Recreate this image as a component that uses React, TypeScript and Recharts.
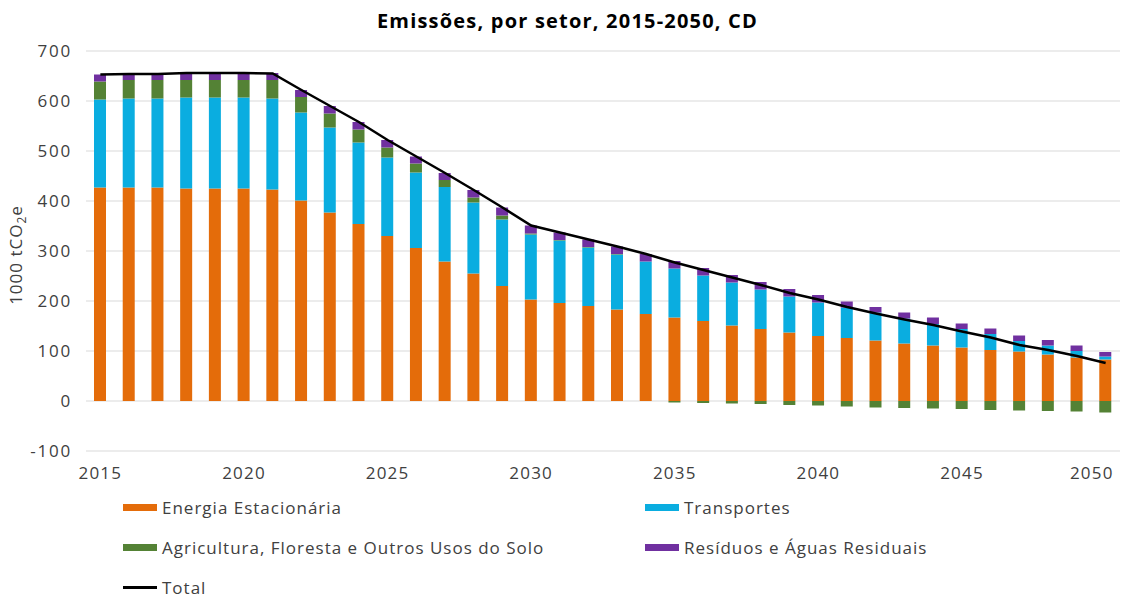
import React from "react";
import {
  ComposedChart,
  Bar,
  Line,
  XAxis,
  YAxis,
  CartesianGrid,
} from "recharts";

const YEARS = Array.from({ length: 36 }, (_, i) => String(2015 + i));

const ENERGIA = [
  427, 427, 427, 425, 425, 425, 423, 401, 377, 354, 330, 306, 279, 255, 230, 203, 196, 190,
  183, 174, 167, 160, 151, 144, 137, 130, 126, 121, 115, 111, 107, 102, 99, 93, 87, 83,
];
const TRANSPORTES = [
  176, 178, 178, 182, 182, 182, 182, 176, 170, 163, 157, 151, 149, 142, 133, 130, 125, 117,
  110, 105, 98, 91, 86, 79, 72, 67, 61, 56, 50, 43, 37, 32, 21, 18, 13, 6,
];
const AGRICULTURA = [
  36, 37, 37, 35, 35, 35, 37, 31, 28, 26, 20, 18, 14, 10, 8, 2, 1, 1,
  1, 0, -3, -4, -5, -6, -8, -9, -11, -13, -14, -15, -16, -18, -19, -20, -21, -23,
];
const RESIDUOS = [
  14, 11, 11, 14, 14, 14, 14, 14, 15, 15, 15, 14, 14, 15, 16, 16, 15, 15,
  15, 15, 15, 15, 15, 15, 15, 15, 12, 11, 12, 13, 11, 11, 11, 11, 11, 9,
];
const TOTAL = [
  653, 654, 654, 656, 656, 656, 655, 622, 590, 558, 522, 489, 456, 422, 387, 351, 337, 323,
  309, 294, 277, 262, 247, 232, 216, 203, 188, 175, 163, 152, 139, 127, 112, 102, 90, 76,
];

const Y_TICKS = [-100, 0, 100, 200, 300, 400, 500, 600, 700];

const SERIES = [
  { key: "energia", name: "Energia Estacionária", color: "#E46C0A" },
  { key: "transportes", name: "Transportes", color: "#0AADE0" },
  { key: "agricultura", name: "Agricultura, Floresta e Outros Usos do Solo", color: "#548235" },
  { key: "residuos", name: "Resíduos e Águas Residuais", color: "#7030A0" },
];

const FONT = "'Open Sans', sans-serif";
const TEXT = "#404040";

const data = YEARS.map((y, i) => ({
  year: y,
  energia: ENERGIA[i],
  transportes: TRANSPORTES[i],
  agricultura: AGRICULTURA[i],
  residuos: RESIDUOS[i],
  total: TOTAL[i],
}));

function XTick(props: any) {
  const { x, y, payload } = props;
  const last = payload.value === YEARS[YEARS.length - 1];
  return (
    <text
      x={last ? x + 8 : x}
      y={y}
      dy={20}
      textAnchor={last ? "end" : "middle"}
      fill={TEXT}
      fontSize={17}
      letterSpacing={1.2}
      fontFamily={FONT}
    >
      {payload.value}
    </text>
  );
}

function YLabel() {
  return (
    <text
      transform="translate(22,255) rotate(-90)"
      textAnchor="middle"
      fill={TEXT}
      fontSize={17}
      letterSpacing={1}
      fontFamily={FONT}
    >
      1000 tCO
      <tspan fontSize={12} dy={4}>2</tspan>
      <tspan dy={-4}>e</tspan>
    </text>
  );
}

function LegendBox() {
  const items = [
    ...SERIES.map((s) => ({ name: s.name, color: s.color, line: false })),
    { name: "Total", color: "#000", line: true },
  ];
  return (
    <div
      style={{
        position: "absolute",
        left: 123,
        top: 494,
        width: 1000,
        display: "grid",
        gridTemplateColumns: "522px 400px",
        rowGap: 14,
        fontFamily: FONT,
        fontSize: 17,
        letterSpacing: 1,
        color: TEXT,
      }}
    >
      {items.map((it) => (
        <div key={it.name} style={{ display: "flex", alignItems: "center", height: 26 }}>
          <span
            style={{
              display: "inline-block",
              width: 34,
              height: it.line ? 3 : 7,
              background: it.color,
              marginRight: 5,
            }}
          />
          {it.name}
        </div>
      ))}
    </div>
  );
}

export default function App() {
  return (
    <div style={{ position: "absolute", left: 0, top: 0, width: 1135, height: 599, background: "#fff" }}>
      <div
        style={{
          position: "absolute",
          top: 7,
          width: 1135,
          textAlign: "center",
          fontFamily: FONT,
          fontWeight: 700,
          fontSize: 20,
          letterSpacing: 1.2,
          color: "#000",
        }}
      >
        Emissões, por setor, 2015-2050, CD
      </div>
      <ComposedChart
        width={1135}
        height={599}
        data={data}
        stackOffset="sign"
        margin={{ top: 51, right: 15, bottom: 118, left: 0 }}
      >
        <CartesianGrid vertical={false} stroke="#D9D9D9" strokeWidth={1.2} />
        <XAxis
          dataKey="year"
          interval={4}
          axisLine={false}
          tickLine={false}
          height={30}
          tick={<XTick />}
        />
        <YAxis
          domain={[-100, 700]}
          ticks={Y_TICKS}
          width={86}
          axisLine={false}
          tickLine={false}
          tickMargin={8}
          tick={{ fill: TEXT, fontSize: 17, fontFamily: FONT, letterSpacing: 1.8 }}
          label={<YLabel />}
        />
        {SERIES.map((s) => (
          <Bar
            key={s.key}
            dataKey={s.key}
            name={s.name}
            stackId="a"
            fill={s.color}
            barSize={12}
            isAnimationActive={false}
          />
        ))}
        <Line
          dataKey="total"
          name="Total"
          type="linear"
          stroke="#000"
          strokeWidth={2.5}
          dot={false}
          activeDot={false}
          isAnimationActive={false}
        />
      </ComposedChart>
      <LegendBox />
    </div>
  );
}
